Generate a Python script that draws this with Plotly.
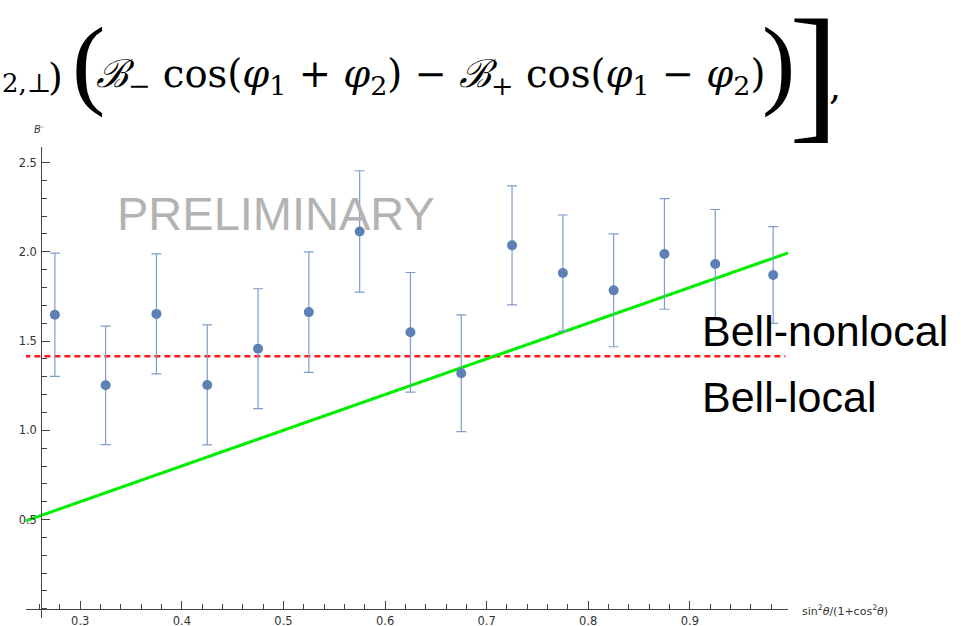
import plotly.graph_objects as go

# Binned measurement of B^- versus sin^2(theta)/(1+cos^2(theta))
x_bins = [0.275, 0.325, 0.375, 0.425, 0.475, 0.525, 0.575, 0.625,
          0.675, 0.725, 0.775, 0.825, 0.875, 0.925, 0.982]
b_minus = [1.647, 1.252, 1.652, 1.254, 1.457, 1.662, 2.114, 1.549,
           1.320, 2.036, 1.881, 1.784, 1.988, 1.932, 1.870]
b_err = [0.345, 0.332, 0.336, 0.336, 0.336, 0.337, 0.340, 0.335,
         0.327, 0.333, 0.325, 0.316, 0.310, 0.305, 0.271]

# Reference lines: Bell bound sqrt(2) and the B^- = 2x line
bell_x = [0.245, 0.994]
bell_y = [1.41421, 1.41421]
lin_x = [0.24, 1.0]
lin_y = [0.48, 2.0]

x_ticks = [0.3, 0.4, 0.5, 0.6, 0.7, 0.8, 0.9]
y_ticks = [0.5, 1.0, 1.5, 2.0, 2.5]

X_RANGE = [0.2466, 0.9966]
Y_RANGE = [-0.0515, 2.587]
Y_AXIS_AT = 0.2616

W, H = 969, 626
L, R, T, B = 26, 181, 147, 8
pw, ph = W - L - R, H - T - B


def px(x):
    return (x - L) / pw


def py(y):
    return (H - B - y) / ph


PT_COLOR = "#5E81B5"
AX_COLOR = "#444444"

fig = go.Figure()

fig.add_trace(go.Scatter(
    x=bell_x, y=bell_y, mode="lines",
    line=dict(color="#ff1a1a", width=2.5, dash="6px,4px"),
    hoverinfo="skip", showlegend=False))

fig.add_trace(go.Scatter(
    x=lin_x, y=lin_y, mode="lines",
    line=dict(color="#00ee00", width=3),
    hoverinfo="skip", showlegend=False))

fig.add_trace(go.Scatter(
    x=x_bins, y=b_minus, mode="markers",
    marker=dict(color=PT_COLOR, size=10),
    error_y=dict(type="data", array=b_err, visible=True,
                 color="#7f9ccb", thickness=1.2, width=5),
    showlegend=False))

fig.update_layout(
    width=W, height=H,
    margin=dict(l=L, r=R, t=T, b=B, autoexpand=False),
    showlegend=False,
    paper_bgcolor="white", plot_bgcolor="white",
    font=dict(family="DejaVu Sans", size=11, color="#333333"),
    xaxis=dict(
        range=X_RANGE, domain=[0, 1], anchor="free", automargin=False,
        position=(0 - Y_RANGE[0]) / (Y_RANGE[1] - Y_RANGE[0]),
        showgrid=False, zeroline=False,
        showline=True, linecolor=AX_COLOR, linewidth=1,
        tickvals=x_ticks, ticktext=[f"{v:.1f}" for v in x_ticks],
        ticks="inside", ticklen=8, tickcolor=AX_COLOR, tickwidth=1,
        ticklabelstandoff=1,
        minor=dict(dtick=0.02, tick0=0.26, ticks="inside", ticklen=5,
                   tickcolor=AX_COLOR, tickwidth=1, showgrid=False),
        tickfont=dict(size=11.5, color="#333333"),
    ),
    yaxis=dict(
        range=Y_RANGE, domain=[0, 1], anchor="free", automargin=False,
        position=(Y_AXIS_AT - X_RANGE[0]) / (X_RANGE[1] - X_RANGE[0]),
        showgrid=False, zeroline=False,
        showline=True, linecolor=AX_COLOR, linewidth=1,
        tickvals=y_ticks, ticktext=[f"{v:.1f}" for v in y_ticks],
        ticks="inside", ticklen=8, tickcolor=AX_COLOR, tickwidth=1,
        ticklabelstandoff=2,
        minor=dict(dtick=0.1, tick0=0.0, ticks="inside", ticklen=5,
                   tickcolor=AX_COLOR, tickwidth=1, showgrid=False),
        tickfont=dict(size=11.5, color="#333333"),
    ),
)

ann = []
# axis labels
ann.append(dict(x=px(39), y=py(129), xref="paper", yref="paper",
                xanchor="center", yanchor="middle",
                text="<i>B</i><sup>-</sup>", showarrow=False,
                font=dict(size=10, color="#333333", family="DejaVu Sans")))
ann.append(dict(x=px(800), y=py(610), xref="paper", yref="paper",
                xanchor="left", yanchor="middle",
                text="sin<sup>2</sup><i>θ</i>/(1+cos<sup>2</sup><i>θ</i>)",
                showarrow=False,
                font=dict(size=11, color="#333333", family="DejaVu Sans")))
# watermark
ann.append(dict(x=px(276), y=py(213), xref="paper", yref="paper",
                xanchor="center", yanchor="middle",
                text="PRELIMINARY", showarrow=False,
                font=dict(size=47, color="#b3b3b3", family="Liberation Sans")))
# region labels
ann.append(dict(x=px(700), y=py(331), xref="paper", yref="paper",
                xanchor="left", yanchor="middle", text="Bell-nonlocal",
                showarrow=False,
                font=dict(size=43, color="black", family="Liberation Sans")))
ann.append(dict(x=px(700), y=py(397), xref="paper", yref="paper",
                xanchor="left", yanchor="middle", text="Bell-local",
                showarrow=False,
                font=dict(size=43, color="black", family="Liberation Sans")))

# formula header
SERIF = "DejaVu Serif"
ann.append(dict(x=px(0), y=py(83), xref="paper", yref="paper",
                xanchor="left", yanchor="middle", text="2,⊥",
                showarrow=False, font=dict(size=26, color="black", family=SERIF)))
ann.append(dict(x=px(46), y=py(77), xref="paper", yref="paper",
                xanchor="left", yanchor="middle", text=")",
                showarrow=False, font=dict(size=38, color="black", family=SERIF)))
ann.append(dict(x=px(70), y=py(62), xref="paper", yref="paper",
                xanchor="left", yanchor="middle", text="(",
                showarrow=False, font=dict(size=100, color="black", family="Liberation Serif")))
ann.append(dict(x=px(94), y=py(76), xref="paper", yref="paper",
                xanchor="left", yanchor="middle",
                text=("<i>ℬ</i><sub>−</sub> cos(<i>φ</i><sub>1</sub> + <i>φ</i><sub>2</sub>)"
                      " − <i>ℬ</i><sub>+</sub> cos(<i>φ</i><sub>1</sub> − <i>φ</i><sub>2</sub>)"),
                showarrow=False, font=dict(size=38.5, color="black", family=SERIF)))
ann.append(dict(x=px(760), y=py(62), xref="paper", yref="paper",
                xanchor="left", yanchor="middle", text=")",
                showarrow=False, font=dict(size=100, color="black", family="Liberation Serif")))
ann.append(dict(x=px(787), y=py(72), xref="paper", yref="paper",
                xanchor="left", yanchor="middle", text="]",
                showarrow=False, font=dict(size=150, color="black", family="Liberation Serif")))
ann.append(dict(x=px(827), y=py(86), xref="paper", yref="paper",
                xanchor="left", yanchor="middle", text=",",
                showarrow=False, font=dict(size=38, color="black", family=SERIF)))

fig.update_layout(annotations=ann)

fig.write_html("out.html")
